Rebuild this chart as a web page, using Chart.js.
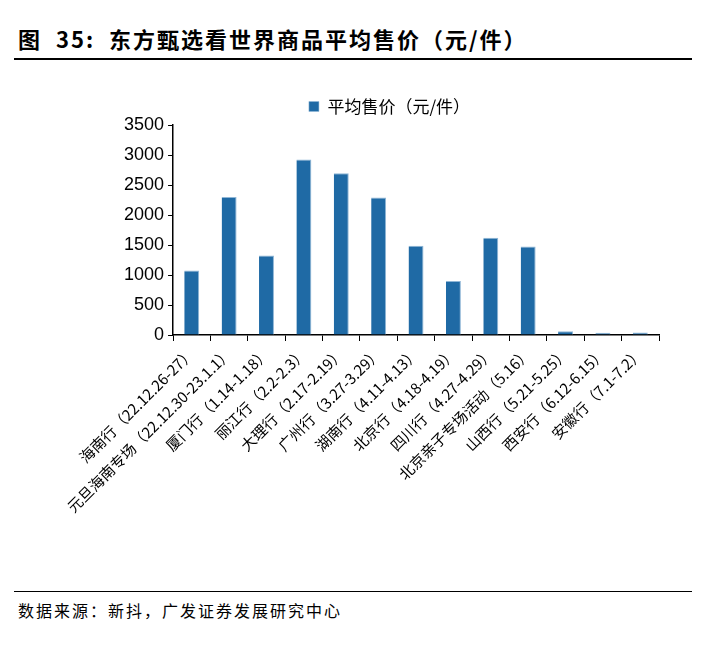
<!DOCTYPE html>
<html><head><meta charset="utf-8">
<script src="https://cdn.jsdelivr.net/npm/chart.js@4"></script>
<style>
body{margin:0;width:709px;height:663px;background:#fff;font-family:"Noto Sans CJK SC",sans-serif;position:relative;overflow:hidden}
#t{position:absolute;left:18px;top:22px;font-size:22px;font-weight:bold;color:#000;letter-spacing:2px}
#l1{position:absolute;left:14px;top:58px;width:678px;height:2px;background:#000}
#l2{position:absolute;left:14px;top:591px;width:678px;height:1px;background:#000}
#s{position:absolute;left:18px;top:598px;font-size:16px;color:#000;letter-spacing:2px}
#w{position:absolute;left:0;top:88px;width:709px;height:500px}
</style></head><body>
<div id="t">图&nbsp;&nbsp;35:&nbsp;&nbsp;东方甄选看世界商品平均售价（元/件）</div>
<div id="l1"></div>
<div id="w"><canvas id="c"></canvas></div>
<div id="l2"></div>
<div id="s">数据来源：新抖，广发证券发展研究中心</div>
<script>
const categories=["海南行（22.12.26-27）","元旦海南专场（22.12.30-23.1.1）","厦门行（1.14-1.18）","丽江行（2.2-2.3）","大理行（2.17-2.19）","广州行（3.27-3.29）","湖南行（4.11-4.13）","北京行（4.18-4.19）","四川行（4.27-4.29）","北京亲子专场活动（5.16）","山西行（5.21-5.25）","西安行（6.12-6.15）","安徽行（7.1-7.2）"];
const values=[1075,2300,1327,2926,2697,2290,1488,899,1621,1477,64,37,43];
const yTicks=[0,500,1000,1500,2000,2500,3000,3500];
new Chart(document.getElementById('c'),{type:'bar',
data:{labels:categories,datasets:[{label:'平均售价（元/件）',data:values,backgroundColor:'#1f6aa5',borderColor:'#8fb6d6',borderWidth:{top:1,right:1},categoryPercentage:0.8,barPercentage:0.5}]},
options:{responsive:true,maintainAspectRatio:false,animation:false,
layout:{padding:{left:120,right:50,top:0,bottom:0}},
plugins:{legend:{labels:{boxWidth:10,boxHeight:10,color:'#000',font:{size:17,family:'Noto Sans CJK SC'}}},tooltip:{enabled:false}},
scales:{
x:{afterFit:s=>{s.height=253},grid:{display:true,drawOnChartArea:false,offset:true,color:'#000',tickLength:6},border:{color:'#000',width:1.5},
ticks:{color:'#000',font:{size:15,family:'Noto Sans CJK SC'},maxRotation:45,minRotation:45,autoSkip:false}},
y:{min:0,max:3500,afterBuildTicks:a=>{a.ticks=yTicks.map(v=>({value:v}))},grid:{display:true,drawOnChartArea:false,color:'#000',tickLength:5},border:{color:'#000',width:1.5},
ticks:{color:'#000',font:{size:18,family:'Liberation Sans'},padding:4,callback:v=>String(v)}}}}});
</script></body></html>
